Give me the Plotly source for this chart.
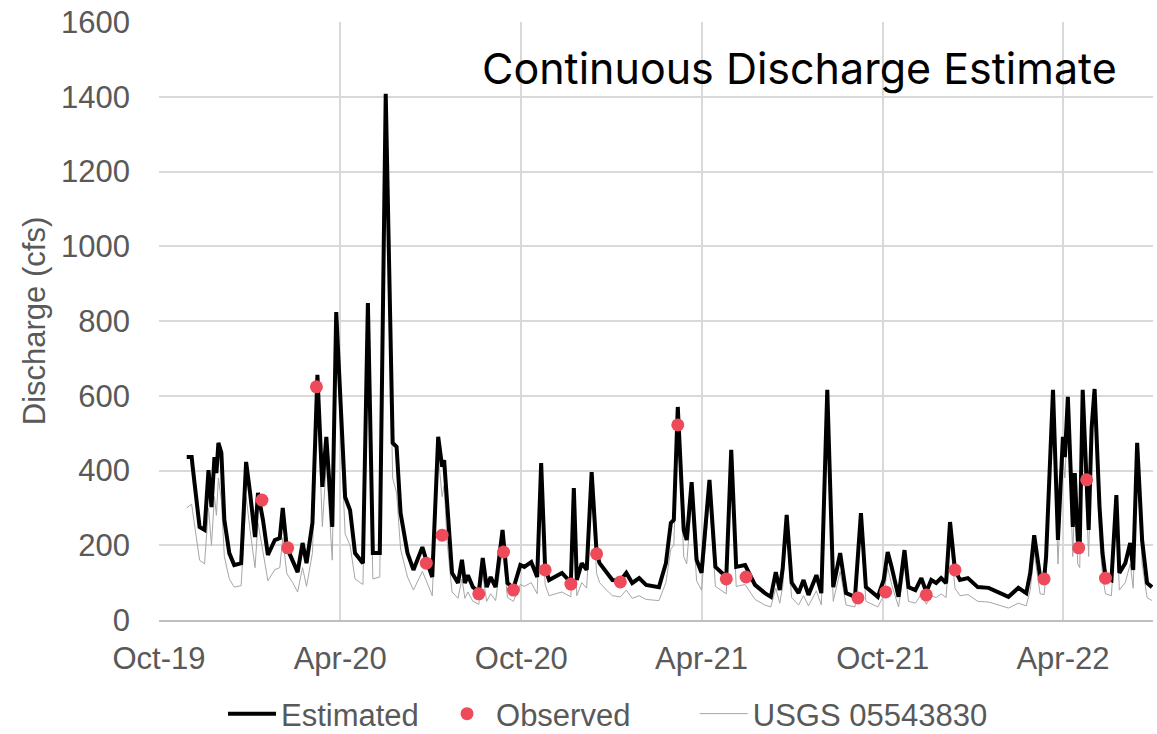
import plotly.graph_objects as go

# ---------------- data ----------------
dates = [
    "2019-10-29","2019-11-03","2019-11-04","2019-11-08","2019-11-11","2019-11-16","2019-11-20","2019-11-23",
    "2019-11-26","2019-11-28","2019-11-30","2019-12-03","2019-12-06","2019-12-11","2019-12-16","2019-12-23",
    "2019-12-28","2020-01-01","2020-01-06","2020-01-09","2020-01-14","2020-01-19","2020-01-26","2020-01-31",
    "2020-02-03","2020-02-07","2020-02-13","2020-02-18","2020-02-23","2020-02-27","2020-03-04","2020-03-09",
    "2020-03-14","2020-03-18","2020-03-24","2020-03-28","2020-04-06","2020-04-11","2020-04-16","2020-04-24",
    "2020-04-29","2020-05-04","2020-05-11","2020-05-17","2020-05-24","2020-05-28","2020-06-01","2020-06-08",
    "2020-06-14","2020-06-23","2020-06-27","2020-07-03","2020-07-09","2020-07-13","2020-07-15","2020-07-18",
    "2020-07-23","2020-07-29","2020-08-02","2020-08-05","2020-08-08","2020-08-13","2020-08-19","2020-08-23",
    "2020-08-27","2020-08-31","2020-09-05","2020-09-12","2020-09-17","2020-09-23","2020-09-30","2020-10-04",
    "2020-10-11","2020-10-17","2020-10-21","2020-10-25","2020-10-29","2020-11-11","2020-11-20","2020-11-23",
    "2020-11-26","2020-12-01","2020-12-06","2020-12-11","2020-12-16","2020-12-19","2020-12-26","2021-01-01",
    "2021-01-09","2021-01-15","2021-01-21","2021-01-28","2021-02-04","2021-02-17","2021-02-24","2021-03-01",
    "2021-03-04","2021-03-08","2021-03-14","2021-03-17","2021-03-22","2021-03-27","2021-04-01","2021-04-09",
    "2021-04-15","2021-04-26","2021-05-01","2021-05-06","2021-05-15","2021-05-25","2021-06-04","2021-06-10",
    "2021-06-15","2021-06-19","2021-06-22","2021-06-26","2021-07-01","2021-07-08","2021-07-13","2021-07-18",
    "2021-07-26","2021-07-31","2021-08-06","2021-08-12","2021-08-19","2021-08-25","2021-09-03","2021-09-09",
    "2021-09-14","2021-09-26","2021-10-02","2021-10-06","2021-10-10","2021-10-17","2021-10-23","2021-10-27",
    "2021-11-03","2021-11-09","2021-11-14","2021-11-19","2021-11-24","2021-11-29","2021-12-04","2021-12-08",
    "2021-12-13","2021-12-18","2021-12-26","2022-01-05","2022-01-16","2022-01-26","2022-02-05","2022-02-15",
    "2022-02-23","2022-02-27","2022-03-03","2022-03-09","2022-03-13","2022-03-15","2022-03-22","2022-03-27",
    "2022-04-01","2022-04-03","2022-04-06","2022-04-11","2022-04-13","2022-04-16","2022-04-18","2022-04-21",
    "2022-04-25","2022-04-27","2022-04-30","2022-05-03","2022-05-08","2022-05-11","2022-05-14","2022-05-20",
    "2022-05-25","2022-05-28","2022-06-03","2022-06-08","2022-06-11","2022-06-15","2022-06-20","2022-06-25",
    "2022-06-30",
]

estimated = [
    436, 436, 410, 321, 249, 241, 401, 302,
    436, 393, 474, 447, 268, 179, 147, 152,
    423, 340, 222, 340, 268, 174, 214, 219,
    300, 195, 161, 128, 206, 152, 260, 656,
    356, 490, 249, 824, 329, 294, 179, 152,
    848, 179, 179, 1408, 474, 463, 286, 179,
    134, 195, 160, 115, 490, 410, 428, 300,
    126, 99, 161, 99, 120, 88, 75, 166,
    88, 115, 88, 241, 99, 85, 147, 142,
    155, 115, 420, 140, 107, 126, 100, 353,
    107, 152, 134, 396, 180, 152, 126, 107,
    105, 126, 99, 112, 94, 88, 152, 260,
    268, 570, 241, 214, 369, 161, 126, 375,
    142, 115, 455, 142, 147, 94, 72, 62,
    128, 80, 139, 281, 100, 72, 107, 67,
    120, 72, 616, 88, 179, 72, 62, 286,
    88, 62, 107, 182, 142, 62, 187, 88,
    80, 112, 75, 107, 99, 112, 99, 262,
    134, 107, 112, 88, 86, 75, 62, 86,
    72, 126, 227, 115, 110, 169, 616, 214,
    490, 436, 597, 249, 393, 214, 200, 616,
    380, 241, 514, 618, 302, 179, 115, 107,
    334, 126, 152, 206, 134, 474, 214, 99,
    88,
]

usgs = [
    300, 310, 290, 215, 160, 150, 300, 200,
    330, 280, 380, 320, 170, 110, 88, 92,
    330, 240, 140, 260, 180, 105, 135, 140,
    220, 125, 100, 75, 140, 90, 180, 600,
    250, 420, 160, 780, 230, 200, 110, 95,
    800, 110, 115, 1360, 380, 340, 190, 115,
    80, 130, 105, 65, 440, 330, 360, 210,
    75, 58, 110, 58, 75, 50, 42, 120,
    50, 70, 52, 190, 60, 50, 95, 90,
    100, 70, 380, 95, 65, 75, 62, 310,
    65, 100, 85, 350, 125, 100, 80, 65,
    62, 80, 58, 65, 55, 52, 100, 190,
    200, 530, 170, 150, 320, 105, 80, 330,
    90, 70, 410, 90, 95, 55, 40, 35,
    85, 45, 90, 240, 60, 40, 65, 38,
    78, 40, 580, 50, 130, 40, 35, 250,
    50, 35, 65, 140, 95, 35, 145, 50,
    45, 70, 42, 65, 60, 70, 60, 220,
    85, 65, 68, 50, 48, 40, 32, 45,
    38, 80, 180, 70, 68, 120, 580, 150,
    440, 380, 560, 170, 340, 150, 140, 570,
    320, 170, 460, 580, 220, 120, 70, 65,
    290, 80, 100, 150, 85, 430, 150, 60,
    52,
]

obs_dates = [
    "2020-01-13","2020-02-08","2020-03-08","2020-06-27","2020-07-13","2020-08-19","2020-09-13","2020-09-23",
    "2020-10-25","2020-11-20","2020-12-16","2021-01-09","2021-03-08","2021-04-26","2021-05-16","2021-09-06",
    "2021-10-04","2021-11-14","2021-12-13","2022-03-13","2022-04-17","2022-04-25","2022-05-14",
]
observed = [
    321, 193, 624, 152, 227, 70, 182, 80,
    134, 96, 177, 102, 522, 110, 115, 59,
    75, 67, 134, 110, 193, 375, 112,
]

tick_dates = ["2019-10-01", "2020-04-01", "2020-10-01", "2021-04-01", "2021-10-01", "2022-04-01"]
tick_labels = ["Oct-19", "Apr-20", "Oct-20", "Apr-21", "Oct-21", "Apr-22"]
y_ticks = [0, 200, 400, 600, 800, 1000, 1200, 1400, 1600]

# ---------------- figure ----------------
FONT = "Liberation Sans, Arial, sans-serif"
GRAY = "#595959"
FS = 31

fig = go.Figure()
fig.add_trace(go.Scatter(
    x=dates, y=usgs, mode="lines", name="USGS 05543830",
    line=dict(color="#a6a6a6", width=1), legend="legend3",
))
fig.add_trace(go.Scatter(
    x=dates, y=estimated, mode="lines", name="Estimated",
    line=dict(color="#000000", width=4), legend="legend",
))
fig.add_trace(go.Scatter(
    x=obs_dates, y=observed, mode="markers", name="Observed",
    marker=dict(color="#ee4a5a", size=13), legend="legend2",
))

fig.add_annotation(
    text="Continuous Discharge Estimate", xref="paper", yref="paper",
    x=0.644, y=0.923, xanchor="center", yanchor="middle", showarrow=False,
    font=dict(family="Inter, Roboto, sans-serif", size=43, color="#000000"),
)


def legend_box(xpos):
    return dict(
        orientation="h", x=xpos, xanchor="left", y=-0.112, yanchor="top",
        font=dict(family=FONT, size=FS, color=GRAY), itemwidth=48,
        bgcolor="rgba(0,0,0,0)",
    )


fig.update_layout(
    width=1157, height=734,
    margin=dict(l=159, r=4, t=22, b=114, autoexpand=False),
    paper_bgcolor="white", plot_bgcolor="white",
    font=dict(family=FONT, size=FS, color=GRAY),
    showlegend=True,
    legend=legend_box(0.0644),
    legend2=legend_box(0.2807),
    legend3=legend_box(0.539),
)

fig.update_xaxes(
    type="date", range=["2019-10-01", "2022-07-01"],
    tickvals=tick_dates, ticktext=tick_labels,
    showgrid=True, gridcolor="#d9d9d9", gridwidth=1.5,
    showline=True, linecolor="#bfbfbf", linewidth=1.5,
    ticks="", ticklabelstandoff=10, zeroline=False,
    tickfont=dict(family=FONT, size=FS, color=GRAY),
)
fig.update_yaxes(
    range=[0, 1600], tickvals=y_ticks,
    showgrid=True, gridcolor="#d9d9d9", gridwidth=1.5,
    showline=False, zeroline=False, ticks="", ticklabelstandoff=28,
    tickfont=dict(family=FONT, size=FS, color=GRAY),
    title=dict(text="Discharge (cfs)", font=dict(family=FONT, size=FS, color=GRAY), standoff=6),
)

fig.write_html("out.html")
